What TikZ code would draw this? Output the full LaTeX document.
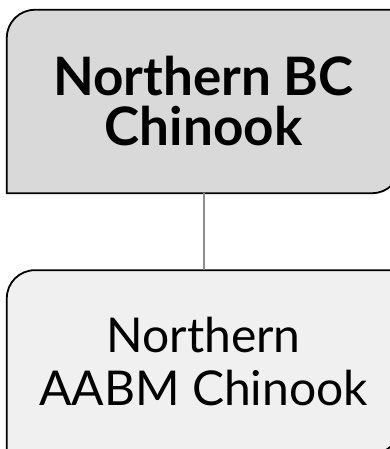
\documentclass[tikz,border=0pt]{standalone}
\usepackage{fontspec}
\setmainfont{Lato}
\usetikzlibrary{
    positioning,
    calc,
    backgrounds
}
\definecolor{dark}{HTML}{000000}
\definecolor{regionfill}{HTML}{D9D9D9}
\definecolor{stockfill}{HTML}{F0F0F0}
\definecolor{linkgray}{HTML}{8C8C8C}
\tikzset{
    % Box holding the text only, outline drawn behind
    stockbox/.style={
        rectangle,
        minimum width=393pt,
        minimum height=183pt,
        align=center,
        inner sep=0pt,
        font=\fontsize{48}{53}\selectfont,
        text=dark
    },
    % Outline with two rounded corners
    boxline/.style={
        draw=dark,
        line width=1.8pt,
        fill=#1
    },
    % Connector between the boxes
    link/.style={
        draw=linkgray,
        line width=2pt
    }
}
% outline of a box: rounded top left and bottom right corners
\newcommand{\stockoutline}[2]{%
    \draw[boxline=#2] (#1.south west) -- ([yshift=-28pt]#1.north west)
        arc[start angle=180, end angle=90, radius=28pt] -- (#1.north east)
        -- ([yshift=28pt]#1.south east)
        arc[start angle=0, end angle=-90, radius=28pt] -- cycle;}

\begin{document}
\begin{tikzpicture}[x=1pt, y=1pt]
        \useasboundingbox (0,0) rectangle (390,449);
        \clip (0,0) rectangle (390,449);

        % Stock boxes
        \node[stockbox, font=\fontsize{53}{50}\selectfont\bfseries] (region) at (203.5, 347.5) {Northern BC\\Chinook};
        \node[stockbox, below=77pt of region] (aabm) {Northern\\AABM Chinook};

        \begin{scope}[on background layer]
            \stockoutline{region}{regionfill}
            \stockoutline{aabm}{stockfill}
        \end{scope}

        % Connector
        \draw[link] (region.south -| 204,0) -- (aabm.north -| 204,0);

    \end{tikzpicture}
\end{document}
